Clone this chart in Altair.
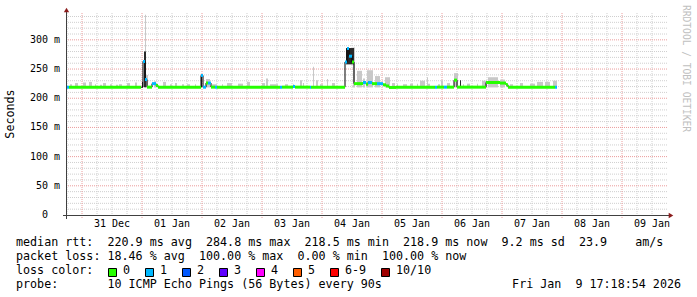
import altair as alt
import pandas as pd

# ---------------- data (hours since 30 Dec 2025 00:00, milliseconds) ----------------
seg_start = [18.0, 18.8, 48.4, 49.2, 50.0, 52.0, 53.6, 54.4, 71.6, 72.4, 73.6, 74.4, 75.6, 77.2,
             78.0, 103.2, 104.0, 108.4, 109.2, 115.2, 115.6, 129.2, 130.0, 130.8, 132.0, 132.8,
             136.4, 137.6, 138.4, 140.0, 142.0, 144.4, 145.6, 146.8, 149.6, 165.2, 166.0, 168.8,
             170.0, 172.8, 174.0, 185.6, 191.2, 193.6, 194.4, 213.2]
seg_end = [18.8, 47.6, 49.2, 50.0, 52.0, 53.6, 54.4, 71.6, 72.4, 73.6, 74.4, 75.6, 77.2, 78.0,
           103.2, 104.0, 108.4, 109.2, 115.2, 115.6, 129.2, 130.0, 130.8, 132.0, 132.8, 136.4,
           137.6, 138.4, 140.0, 142.0, 144.4, 145.6, 146.8, 149.6, 165.2, 166.0, 168.8, 170.0,
           172.8, 174.0, 185.6, 191.2, 193.6, 194.4, 213.2, 214.0]
seg_median = [219, 219, 263, 232, 219, 225, 222, 219, 239, 219, 226, 226, 219, 219, 219, 219,
              219, 220, 219, 219, 219, 262, 285, 272, 262, 225, 227, 224, 227, 225, 225, 223,
              221, 218.5, 219, 219, 219, 219, 219, 231, 219, 227, 226, 223, 219, 219]
seg_loss = [1, 0, 1, 1, 0, 1, 0, 0, 1, 1, 0, 1, 0, 1, 0, 1, 0, 1, 0, 1, 0, 1, 1, 1, 0, 0, 1, 0,
            1, 0, 1, 0, 0, 0, 0, 1, 0, 1, 0, 0, 0, 0, 0, 0, 0, 1]

smoke_start = [19.2, 21.2, 24.4, 26.8, 29.2, 31.2, 32.4, 35.2, 37.6, 38.8, 42.0, 45.2, 49.2, 49.6,
               52.8, 56.4, 59.2, 61.2, 64.0, 66.0, 69.2, 73.6, 76.0, 80.0, 82.0, 86.4, 90.0, 96.0,
               97.6, 99.2, 105.2, 108.4, 111.2, 112.4, 116.4, 117.6, 119.2, 122.0, 124.0, 132.4,
               134.0, 136.4, 138.0, 141.2, 145.2, 148.0, 150.0, 152.4, 155.2, 158.0, 159.2, 162.0,
               162.4, 166.4, 167.6, 170.0, 172.8, 176.4, 178.0, 182.0, 184.0, 186.4, 191.2, 195.2,
               199.2, 203.2, 206.0, 209.2, 212.4]
smoke_end = [20.0, 22.4, 25.6, 28.0, 29.6, 32.0, 33.6, 36.0, 38.4, 40.0, 43.2, 46.0, 49.6, 50.4,
             53.6, 57.6, 60.0, 62.0, 64.8, 67.2, 69.6, 75.2, 78.0, 80.4, 84.0, 88.4, 91.2, 97.2,
             98.4, 102.4, 106.4, 108.8, 112.0, 112.8, 116.8, 118.4, 120.4, 122.4, 125.2, 133.2,
             136.0, 137.2, 140.4, 143.2, 147.2, 149.2, 150.4, 154.0, 156.4, 158.4, 161.2, 162.4,
             163.2, 167.2, 168.4, 171.2, 174.4, 176.8, 179.2, 182.4, 186.0, 190.4, 193.2, 196.4,
             200.4, 205.2, 208.4, 211.2, 214.0]
smoke_top = [224, 226, 227, 228, 224, 223, 226, 224, 223, 224, 226, 227, 343, 240, 229, 228, 224,
             226, 224, 224, 224, 233, 224, 224, 226, 225, 228, 226, 234, 224, 224, 224, 231, 226,
             254, 231, 224, 233, 226, 287, 247, 234, 248, 238, 236, 226, 224, 224, 225, 225, 230,
             236, 225, 224, 231, 226, 243, 224, 225, 225, 230, 236, 232, 224, 226, 225, 228, 228,
             230]

dense_start = [48.0, 48.8, 71.6, 129.6, 175.2]
dense_end = [48.4, 49.6, 72.0, 132.8, 175.6]
dense_low = [219, 219, 219, 258, 219]
dense_high = [228, 280, 241, 286, 231]

day_labels = ["31 Dec", "01 Jan", "02 Jan", "03 Jan", "04 Jan", "05 Jan", "06 Jan", "07 Jan",
              "08 Jan", "09 Jan"]
y_ticks = [0, 50, 100, 150, 200, 250, 300]

rtt_values = [220.9, 284.8, 218.5, 218.9]
rtt_kinds = ["avg", "max", "min", "now"]
rtt_sd = 9.2
rtt_ams = 23.9
loss_values = [18.46, 100.00, 0.00, 100.00]
loss_labels = ["0", "1", "2", "3", "4", "5", "6-9", "10/10"]
loss_colors = ["#26ff00", "#00b8ff", "#0059ff", "#5e00ff", "#ff00ff", "#ff5e00", "#ff0000", "#a00000"]
probe_text = "probe:       10 ICMP Echo Pings (56 Bytes) every 90s"
stamp_text = "Fri Jan  9 17:18:54 2026"
credit_text = "RRDTOOL / TOBI OETIKER"

# ---------------- layout ----------------
W, H = 600, 202
PL, PT = 66, 13
X_DOMAIN = [17.6, 257.6]
Y_MAX = 346
MONO = "DejaVu Sans Mono"
LEG = 11.7
AX = 10
NB = "\u00a0"


def nb(s):
    return s.replace(" ", NB)


xs = alt.Scale(domain=X_DOMAIN, nice=False, zero=False)
ys = alt.Scale(domain=[0, Y_MAX], nice=False, zero=False)


def loss_cat(n):
    if n <= 5:
        return str(n)
    if n < 10:
        return "6-9"
    return "10/10"


seg_df = pd.DataFrame({"s": seg_start, "e": seg_end, "m": seg_median,
                       "c": [loss_cat(n) for n in seg_loss]})
step_df = pd.DataFrame({"t": seg_start + [seg_end[-1]], "m": seg_median + [seg_median[-1]]})
step_df["o"] = range(len(step_df))
smoke_df = pd.DataFrame({"s": smoke_start, "e": smoke_end, "top": smoke_top})
smoke_df["low"] = rtt_values[2]
dense_df = pd.DataFrame({"s": dense_start, "e": dense_end, "lo": dense_low, "hi": dense_high})

minor_y = pd.DataFrame({"v": [v for v in range(10, Y_MAX, 10) if v % 50]})
major_y = pd.DataFrame({"v": list(range(50, Y_MAX, 50))})
minor_x = pd.DataFrame({"h": [h for h in range(18, 258, 6) if h % 24]})
major_x = pd.DataFrame({"h": list(range(24, 258, 24))})

layers = []
layers.append(alt.Chart(minor_y).mark_rule(color="#cfcfcf", strokeDash=[1, 1], strokeWidth=1).encode(
    y=alt.Y("v:Q", scale=ys, axis=None), x=alt.value(0), x2=alt.value(W + 2)))
layers.append(alt.Chart(minor_x).mark_rule(color="#cfcfcf", strokeDash=[1, 1], strokeWidth=1).encode(
    x=alt.X("h:Q", scale=xs, axis=None), y=alt.value(0), y2=alt.value(H)))
layers.append(alt.Chart(major_y).mark_rule(color="#eb9c9c", strokeDash=[1, 1], strokeWidth=1).encode(
    y=alt.Y("v:Q", scale=ys, axis=None), x=alt.value(0), x2=alt.value(W + 2)))
layers.append(alt.Chart(major_x).mark_rule(color="#eb9c9c", strokeDash=[1, 1], strokeWidth=1).encode(
    x=alt.X("h:Q", scale=xs, axis=None), y=alt.value(0), y2=alt.value(H + 4)))

layers.append(alt.Chart(smoke_df).mark_rect(color="#c8c8c8").encode(
    x=alt.X("s:Q", scale=xs, axis=None), x2="e:Q",
    y=alt.Y("low:Q", scale=ys, axis=None), y2="top:Q"))
layers.append(alt.Chart(dense_df).mark_rect(color="#2a2a2a").encode(
    x=alt.X("s:Q", scale=xs, axis=None), x2="e:Q",
    y=alt.Y("lo:Q", scale=ys, axis=None), y2="hi:Q"))
layers.append(alt.Chart(step_df).mark_line(color="#000000", strokeWidth=1, interpolate="step-after").encode(
    x=alt.X("t:Q", scale=xs, axis=None), y=alt.Y("m:Q", scale=ys, axis=None), order="o:Q"))
layers.append(alt.Chart(seg_df).mark_rule(strokeWidth=3, strokeCap="butt").encode(
    x=alt.X("s:Q", scale=xs, axis=None), x2="e:Q", y=alt.Y("m:Q", scale=ys, axis=None),
    color=alt.Color("c:N", scale=alt.Scale(domain=loss_labels, range=loss_colors), legend=None)))

# axes lines and arrows
layers.append(alt.Chart(pd.DataFrame({"a": [0]})).mark_rule(color="#404040", strokeWidth=1).encode(
    x=alt.value(0.5), y=alt.value(-2), y2=alt.value(H + 4)))
layers.append(alt.Chart(pd.DataFrame({"a": [0]})).mark_rule(color="#404040", strokeWidth=1).encode(
    y=alt.value(H + 0.5), x=alt.value(-3), x2=alt.value(W + 3)))
layers.append(alt.Chart(pd.DataFrame({"a": [0]})).mark_point(shape="triangle-up", filled=True, size=28,
                                                             color="#8b1c1c", opacity=1).encode(
    x=alt.value(0.5), y=alt.value(-3)))
layers.append(alt.Chart(pd.DataFrame({"a": [0]})).mark_point(shape="triangle-right", filled=True, size=28,
                                                             color="#8b1c1c", opacity=1).encode(
    x=alt.value(W + 5), y=alt.value(H + 0.5)))

# axis labels (the zero label is padded like rrdtool's "%5.0lf %s")
nz = [v for v in y_ticks if v != 0]
ylab_df = pd.DataFrame({"v": nz, "t": [nb(f"{v} m") for v in nz]})
layers.append(alt.Chart(ylab_df).mark_text(font=MONO, fontSize=AX, align="right", baseline="middle",
                                           color="#000000").encode(
    x=alt.value(-6), y=alt.Y("v:Q", scale=ys, axis=None), text="t:N"))
zlab_df = pd.DataFrame({"v": [v for v in y_ticks if v == 0], "t": ["0"]})
layers.append(alt.Chart(zlab_df).mark_text(font=MONO, fontSize=AX, align="right", baseline="middle",
                                           color="#000000").encode(
    x=alt.value(-18), y=alt.Y("v:Q", scale=ys, axis=None), text="t:N"))
xlab_df = pd.DataFrame({"h": [36 + 24 * i for i in range(len(day_labels))], "t": day_labels})
layers.append(alt.Chart(xlab_df).mark_text(font=MONO, fontSize=AX, align="center", baseline="middle",
                                           color="#000000").encode(
    x=alt.X("h:Q", scale=xs, axis=None), y=alt.value(H + 9), text="t:N"))


def text_layer(txt, x, y, **kw):
    base = dict(font=MONO, fontSize=LEG, align="left", baseline="middle", color="#000000")
    base.update(kw)
    return alt.Chart(pd.DataFrame({"t": [txt]})).mark_text(**base).encode(
        x=alt.value(x), y=alt.value(y), text="t:N")


layers.append(text_layer("Seconds", 10 - PL, 114 - PT, angle=270, align="center"))
layers.append(text_layer(nb(credit_text), 686 - PL, 5 - PT, angle=90, fontSize=9.6, color="#c0c0c0"))

line1 = "median rtt:  " + "  ".join(f"{v:.1f} ms {k}" for v, k in zip(rtt_values, rtt_kinds)) \
        + f"  {rtt_sd:.1f} ms sd  {rtt_ams:.1f}    am/s"
line2 = "packet loss: " + "  ".join(f"{v:.2f} % {k}" for v, k in zip(loss_values, rtt_kinds))
row_y = [242, 256, 270, 284]
layers.append(text_layer(nb(line1), 16 - PL, row_y[0] - PT))
layers.append(text_layer(nb(line2), 16 - PL, row_y[1] - PT))
layers.append(text_layer(nb("loss color:"), 16 - PL, row_y[2] - PT))
layers.append(text_layer(nb(probe_text), 16 - PL, row_y[3] - PT))
layers.append(text_layer(nb(stamp_text), 681 - PL, row_y[3] - PT, align="right"))

bx = 108
for lab, col in zip(loss_labels, loss_colors):
    layers.append(alt.Chart(pd.DataFrame({"a": [0]})).mark_rect(fill=col, stroke="#000000", strokeWidth=1).encode(
        x=alt.value(bx - PL + 0.5), x2=alt.value(bx - PL + 8.5),
        y=alt.value(row_y[2] - PT - 1.5), y2=alt.value(row_y[2] - PT + 6.5)))
    layers.append(text_layer(lab, bx + 15 - PL, row_y[2] - PT))
    bx += 30 + 7 * len(lab)

chart = alt.layer(*layers).properties(
    width=W, height=H,
    autosize=alt.AutoSizeParams(type="none"),
    padding={"left": PL, "top": PT, "right": 697 - PL - W, "bottom": 297 - PT - H},
    background="#ffffff",
).configure_view(stroke=None)

chart.save("out.html", embed_options={"renderer": "svg", "actions": False})
